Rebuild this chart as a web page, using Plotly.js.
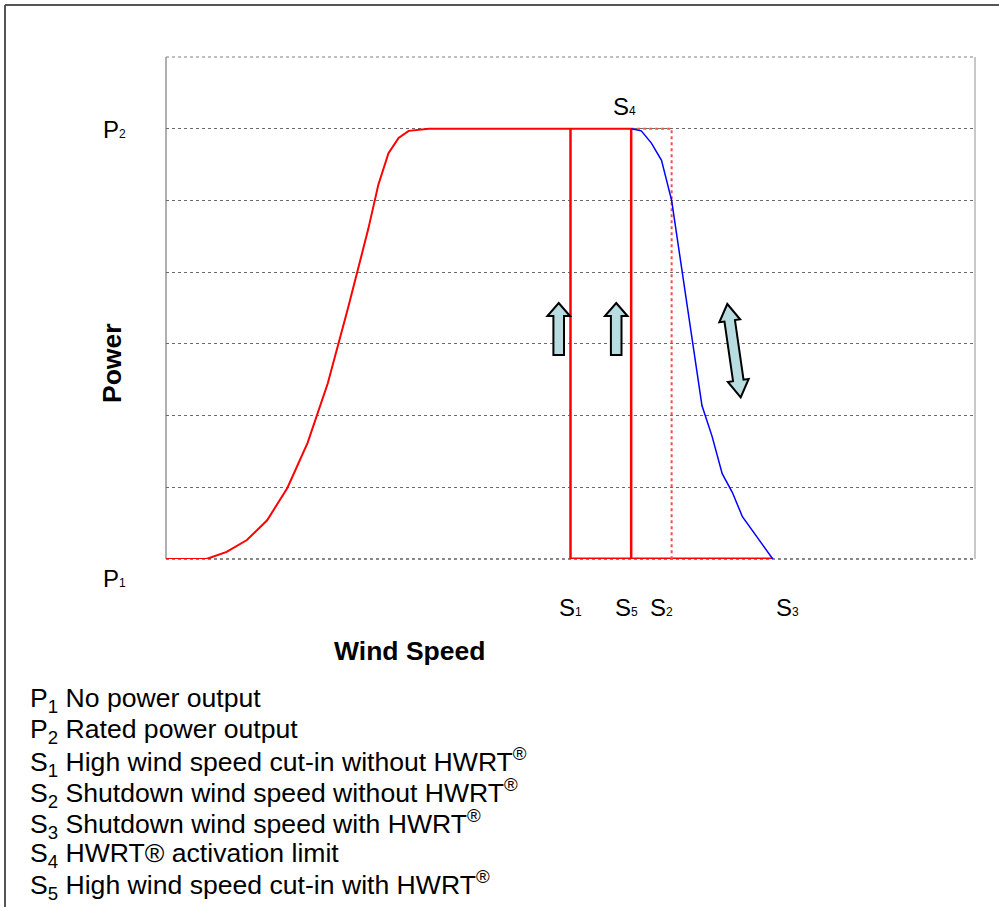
<!DOCTYPE html>
<html>
<head>
<meta charset="utf-8">
<script src="https://cdn.plot.ly/plotly-3.0.1.min.js"></script>
<style>html,body{margin:0;padding:0;background:#fff;}#chart{width:999px;height:907px;}</style>
</head>
<body>
<div id="chart"></div>
<script>
// ---- data (wind speed in arbitrary units, power in arbitrary units; P2 = 6) ----
const windSpeed  = [0, 2, 3, 4, 5, 6, 7, 8, 9, 10, 10.5, 11, 11.5, 12, 13, 20, 23];
const powerCurve = [0, 0, 0.10, 0.265, 0.54, 0.99, 1.62, 2.45, 3.5, 4.6, 5.22, 5.66, 5.87, 5.97, 6, 6, 6];
const hwrtSpeed  = [23, 23.5, 24, 24.5, 25, 26.5, 27, 27.5, 28, 28.5, 30];
const hwrtPower  = [6, 5.97, 5.80, 5.56, 5.0, 2.14, 1.71, 1.19, 0.93, 0.59, 0];
const P1 = 0, P2 = 6;
const S1 = 20, S5 = 23, S2 = 25, S3 = 30;
const legendLines = [
  'P<sub>1</sub> No power output',
  'P<sub>2</sub> Rated power output',
  'S<sub>1</sub> High wind speed cut-in without HWRT<sup>®</sup>',
  'S<sub>2</sub> Shutdown wind speed without HWRT<sup>®</sup>',
  'S<sub>3</sub> Shutdown wind speed with HWRT<sup>®</sup>',
  'S<sub>4</sub> HWRT® activation limit',
  'S<sub>5</sub> High wind speed cut-in with HWRT<sup>®</sup>'
];

// ---- layout geometry ----
const W = 999, H = 907;
const L = 166, R = 975, T = 57, B = 559;
const XMAX = 40, YMAX = 7;
const FONT = 'Liberation Sans, Arial, sans-serif';
const px = x => (x - L) / (R - L);          // pixel -> paper x
const py = y => (B - y) / (B - T);          // pixel -> paper y
const dx = x => (x - L) / (R - L) * XMAX;   // pixel -> data x
const dy = y => (B - y) / (B - T) * YMAX;   // pixel -> data y

const red = '#ff0000';
const traces = [
  {x: windSpeed, y: powerCurve, mode: 'lines', line: {color: red, width: 2}, hoverinfo: 'skip'},
  {x: [S1, S1], y: [P1, P2], mode: 'lines', line: {color: red, width: 2.5}, hoverinfo: 'skip'},
  {x: [S5, S5], y: [P1, P2], mode: 'lines', line: {color: red, width: 2.5}, hoverinfo: 'skip'},
  {x: [S1, S3], y: [P1, P1], mode: 'lines', line: {color: red, width: 3}, hoverinfo: 'skip'},
  {x: [S5, S2, S2], y: [P2, P2, P1], mode: 'lines', line: {color: '#ff4a4a', width: 2, dash: 'dot'}, hoverinfo: 'skip'},
  {x: hwrtSpeed, y: hwrtPower, mode: 'lines', line: {color: '#0000ff', width: 1.5}, hoverinfo: 'skip'}
];

function pathFromPx(pts) {
  return 'M' + pts.map(p => dx(p[0]).toFixed(4) + ',' + dy(p[1]).toFixed(4)).join(' L') + ' Z';
}
function upArrow(cx, tip, bottom) {
  const h = 13, w = 11.3, s = 5.3;
  return pathFromPx([[cx, tip], [cx + w, tip + h], [cx + s, tip + h], [cx + s, bottom],
                     [cx - s, bottom], [cx - s, tip + h], [cx - w, tip + h]]);
}
function doubleArrow(A, Bp) {
  const vx = Bp[0] - A[0], vy = Bp[1] - A[1];
  const len = Math.hypot(vx, vy);
  const d = [vx / len, vy / len], n = [d[1], -d[0]];
  const h = 17, w = 10.5, s = 5.3;
  const P = (base, a, b) => [base[0] + a * d[0] + b * n[0], base[1] + a * d[1] + b * n[1]];
  return pathFromPx([A, P(A, h, w), P(A, h, s), P(Bp, -h, s), P(Bp, -h, w), Bp,
                     P(Bp, -h, -w), P(Bp, -h, -s), P(A, h, -s), P(A, h, -w)]);
}
const arrowStyle = {type: 'path', xref: 'x', yref: 'y', fillcolor: '#b7dde0', line: {color: '#000', width: 2}, layer: 'above'};

const shapes = [
  // outer frame
  {type: 'line', xref: 'paper', yref: 'paper', x0: px(5), x1: px(1002), y0: py(5), y1: py(5), line: {color: '#555', width: 2}},
  {type: 'line', xref: 'paper', yref: 'paper', x0: px(5), x1: px(5), y0: py(5), y1: py(912), line: {color: '#555', width: 2}},
  // plot borders
  {type: 'line', xref: 'paper', yref: 'paper', x0: 0, x1: 0, y0: 0, y1: 1, line: {color: '#b0b0b0', width: 2}, layer: 'below'},
  {type: 'line', xref: 'paper', yref: 'paper', x0: 1, x1: 1, y0: 0, y1: 1, line: {color: '#c8c8c8', width: 2}, layer: 'below'},
  {type: 'line', xref: 'paper', yref: 'paper', x0: 0, x1: 1, y0: 1, y1: 1, line: {color: '#808080', width: 1, dash: 'dot'}, layer: 'below'},
  {type: 'line', xref: 'paper', yref: 'paper', x0: 0, x1: 1, y0: 0, y1: 0, line: {color: '#606060', width: 1.5, dash: 'dot'}, layer: 'below'},
  Object.assign({path: upArrow(558.7, 303, 355)}, arrowStyle),
  Object.assign({path: upArrow(616.2, 303, 355)}, arrowStyle),
  Object.assign({path: doubleArrow([727.3, 304], [740.7, 397.3])}, arrowStyle)
];

const lab = (text, x, y, size, extra) => Object.assign({
  text: text, xref: 'paper', yref: 'paper', x: px(x), y: py(y), showarrow: false,
  xanchor: 'center', yanchor: 'middle', font: {family: FONT, size: size, color: '#000'}
}, extra || {});
const sm = d => '<span style="font-size:12px">' + d + '</span>';

const annotations = [
  lab('P' + sm('2'), 114, 129, 24),
  lab('P' + sm('1'), 114, 578, 24),
  lab('S' + sm('4'), 624, 106, 24),
  lab('S' + sm('1'), 570, 607, 24),
  lab('S' + sm('5'), 626, 607, 24),
  lab('S' + sm('2'), 661, 607, 24),
  lab('S' + sm('3'), 787, 607, 24),
  lab('<b>Wind Speed</b>', 409, 651, 26.5),
  lab('<b>Power</b>', 112, 363, 26.5, {textangle: -90})
];
const legY = [700, 731, 762, 793, 824, 855, 885];
legendLines.forEach((t, i) => annotations.push(lab(t, 28, legY[i], 26.6, {xanchor: 'left'})));

const layout = {
  width: W, height: H,
  margin: {l: L, r: W - R, t: T, b: H - B, pad: 0},
  paper_bgcolor: '#fff', plot_bgcolor: '#fff',
  showlegend: false,
  xaxis: {range: [0, XMAX], showgrid: false, zeroline: false, showticklabels: false, ticks: '', showline: false, fixedrange: true},
  yaxis: {range: [0, YMAX], dtick: 1, tick0: 0, showgrid: true, gridcolor: '#6a6a6a', gridwidth: 1, griddash: 'dot',
          zeroline: false, showticklabels: false, ticks: '', showline: false, fixedrange: true},
  shapes: shapes,
  annotations: annotations
};

Plotly.newPlot('chart', traces, layout, {displayModeBar: false, staticPlot: true});
</script>
</body>
</html>
